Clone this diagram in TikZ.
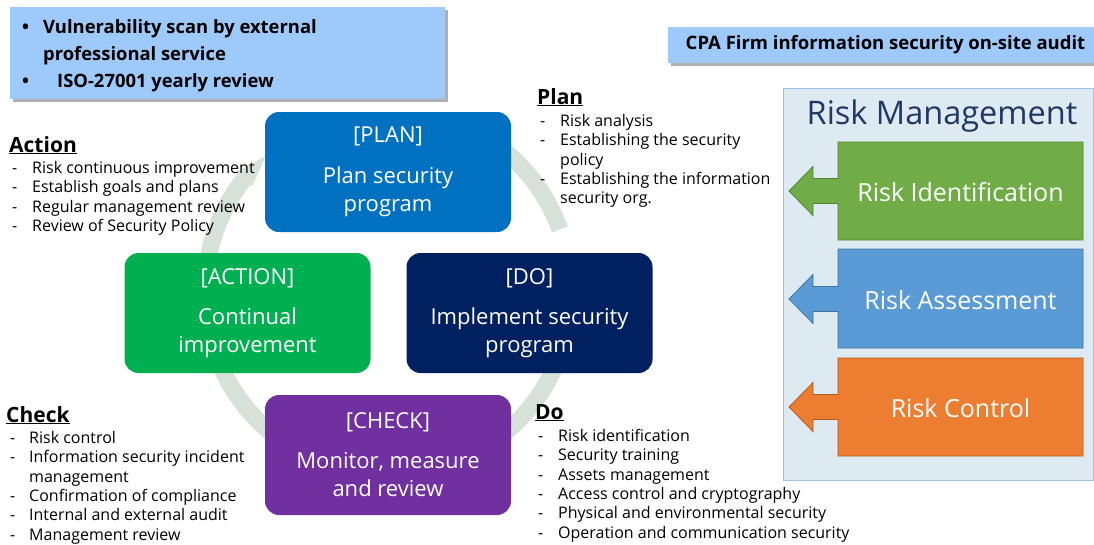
\documentclass[tikz,border=0pt]{standalone}
\usepackage{fontspec}
\setmainfont{Open Sans}
\usetikzlibrary{calc}
\definecolor{planc}{HTML}{0070C0}
\definecolor{actc}{HTML}{00B050}
\definecolor{doc}{HTML}{002060}
\definecolor{chkc}{HTML}{7030A0}
\definecolor{ringc}{RGB}{214,226,216}
\definecolor{topblue}{RGB}{157,201,251}
\definecolor{shadowc}{RGB}{175,175,175}
\definecolor{pnlfill}{RGB}{222,234,241}
\definecolor{pnlborder}{RGB}{157,195,230}
\definecolor{navy}{HTML}{1F3864}
\definecolor{rgreen}{HTML}{70AD47}
\definecolor{rgreenb}{HTML}{548235}
\definecolor{rblue}{HTML}{5B9BD5}
\definecolor{rblueb}{HTML}{41719C}
\definecolor{rorange}{HTML}{ED7D31}
\definecolor{rorangeb}{HTML}{AE5A21}
\newcommand\itm[2]{\makebox[#1][l]{-}#2}
\newcommand\cnt[2]{\hspace*{#1}#2}
\tikzset{
  pdca/.style={rounded corners=14pt, minimum width=246pt, minimum height=120pt, text=white, align=center, font=\fontsize{22}{28}\selectfont, inner sep=0},
  lst/.style={anchor=north west, align=left, inner sep=0, font=\fontsize{16}{19.35}\selectfont},
  hd/.style={anchor=base west, inner sep=0, font=\bfseries\fontsize{21}{25}\selectfont},
  ring/.style={draw=ringc, line width=17pt},
  ringhead/.style={fill=ringc},
  rmtext/.style={text=white, font=\fontsize{25}{30}\selectfont, inner sep=0},
  topbox/.style={fill=topblue, inner sep=0},
  shad/.style={fill=shadowc, inner sep=0},
  rmarrow/.style={line width=0.8pt},
}
\begin{document}
\begin{tikzpicture}[x=1pt,y=-1pt]
\useasboundingbox[fill=white] (0,0) rectangle (1094,544);
% cycle ring
\coordinate (ctr) at (388,292);
\draw[ring] ($(ctr)+(185:183)$) arc[start angle=185, end angle=219, radius=183];
\fill[ringhead] ($(ctr)+(218:194)$) -- ($(ctr)+(228:183)$) -- ($(ctr)+(218:172)$) -- cycle;
\draw[ring] ($(ctr)+(305:183)$) arc[start angle=305, end angle=340, radius=183];
\draw[ring] ($(ctr)+(15:183)$) arc[start angle=15, end angle=52, radius=183];
\draw[ring] ($(ctr)+(125:183)$) arc[start angle=125, end angle=158, radius=183];
% top-left box
\fill[shad] (13,10) rectangle (448,102);
\node[topbox, minimum width=435pt, minimum height=92pt, anchor=north west] (tlbox) at (10,7) {};
\node[anchor=north west, align=left, inner sep=0, font=\bfseries\fontsize{18.4}{27}\selectfont] (tltext) at (22,19)
  {\makebox[21pt][l]{•}Vulnerability scan by external\\\hspace*{21pt}professional service\\\makebox[35pt][l]{•}ISO-27001 yearly review};
% CPA box
\fill[shad] (671,30) rectangle (1094,66);
\node[topbox, minimum width=426pt, minimum height=36pt, anchor=north west] (cpabox) at (668,27) {};
\node[inner sep=0, font=\bfseries\fontsize{18.5}{22}\selectfont] (cpatext) at (885.5,45) {CPA Firm information security on-site audit};
% PDCA boxes
\node[pdca, fill=planc] (plan) at (388,172) {[PLAN]\\[13pt]Plan security\\program};
\node[pdca, fill=actc] (act) at (247.5,313) {[ACTION]\\[12pt]Continual\\improvement};
\node[pdca, fill=doc] (do) at (529.5,313) {[DO]\\[12pt]Implement security\\program};
\node[pdca, fill=chkc] (chk) at (388,455) {[CHECK]\\[12pt]Monitor, measure\\and review};
% headings
\node[hd] (hact) at (9,152) {\underline{Action}};
\node[hd] (hplan) at (537,104) {\underline{Plan}};
\node[hd] (hchk) at (6,422) {\underline{Check}};
\node[hd] (hdo) at (535,419) {\underline{Do}};
% lists
\node[lst] (lact) at (12,161) {\itm{20pt}{Risk continuous improvement}\\\itm{20pt}{Establish goals and plans}\\\itm{20pt}{Regular management review}\\\itm{20pt}{Review of Security Policy}};
\node[lst] (lplan) at (540,114) {\itm{20pt}{Risk analysis}\\\itm{20pt}{Establishing the security}\\\cnt{20pt}{policy}\\\itm{20pt}{Establishing the information}\\\cnt{20pt}{security org.}};
\node[lst] (lchk) at (10,431) {\itm{19pt}{Risk control}\\\itm{19pt}{Information security incident}\\\cnt{19pt}{management}\\\itm{19pt}{Confirmation of compliance}\\\itm{19pt}{Internal and external audit}\\\itm{19pt}{Management review}};
\node[lst] (ldo) at (538,429) {\itm{20pt}{Risk identification}\\\itm{20pt}{Security training}\\\itm{20pt}{Assets management}\\\itm{20pt}{Access control and cryptography}\\\itm{20pt}{Physical and environmental security}\\\itm{20pt}{Operation and communication security}};
% risk management panel
\node[draw=pnlborder, fill=pnlfill, line width=1pt, minimum width=310pt, minimum height=392pt, anchor=north west, inner sep=0] (rm) at (783,88) {};
\node[inner sep=0, text=navy, font=\fontsize{32.5}{36}\selectfont] (rmtitle) at (942,116) {Risk Management};
\filldraw[rmarrow, fill=rgreen, draw=rgreenb] (838,142) -- (1083,142) -- (1083,240) -- (838,240) -- (838,203.5) -- (813,203.5) -- (813,215.5) -- (789,191) -- (813,166.5) -- (813,178.5) -- (838,178.5) -- cycle;
\node[rmtext] (rid) at (960.5,192) {Risk Identification};
\filldraw[rmarrow, fill=rblue, draw=rblueb] (838,249) -- (1083,249) -- (1083,348) -- (838,348) -- (838,311.5) -- (813,311.5) -- (813,323.5) -- (789,299) -- (813,274.5) -- (813,286.5) -- (838,286.5) -- cycle;
\node[rmtext] (ras) at (960.5,300) {Risk Assessment};
\filldraw[rmarrow, fill=rorange, draw=rorangeb] (838,358) -- (1083,358) -- (1083,456) -- (838,456) -- (838,419.5) -- (813,419.5) -- (813,431.5) -- (789,407) -- (813,382.5) -- (813,394.5) -- (838,394.5) -- cycle;
\node[rmtext] (rc) at (960.5,408) {Risk Control};
\end{tikzpicture}
\end{document}
